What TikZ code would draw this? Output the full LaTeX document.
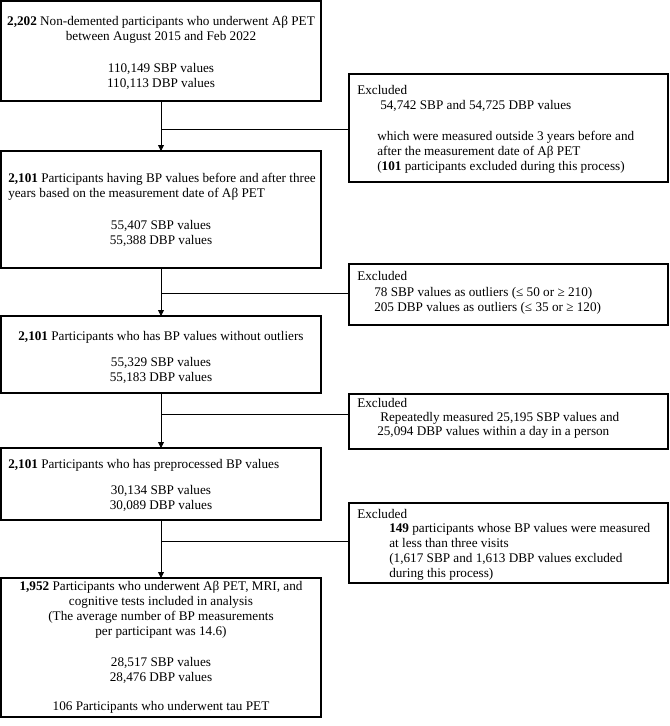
\documentclass[tikz,border=0pt]{standalone}
\usepackage{fontspec}
\setmainfont{Liberation Serif}
\usetikzlibrary{arrows.meta}
\begin{document}
\begin{tikzpicture}[x=0.75pt,y=-0.75pt,
  box/.style={draw=black,line width=1.1pt,inner sep=0pt,outer sep=0pt,fill=white},
  lbox/.style={box,minimum width=240pt},
  rbox/.style={box,minimum width=239.25pt},
  txt/.style={inner sep=0pt,font=\fontsize{9.9pt}{11.25pt}\selectfont},
  ctxt/.style={txt,align=center},
  ltxt/.style={txt,align=left,anchor=west},
  conn/.style={draw=black,line width=0.6pt},
  arr/.style={conn,-{Triangle[length=4.5pt,width=4.5pt]}}]
\useasboundingbox[fill=white] (0,0) rectangle (669,726);
% left boxes
\node[lbox,minimum height=75pt] (b1) at (161,51) {};
\node[lbox,minimum height=87.75pt] (b2) at (161,209.5) {};
\node[lbox,minimum height=57.75pt] (b3) at (161,354.5) {};
\node[lbox,minimum height=54pt] (b4) at (161,484) {};
\node[lbox,minimum height=104.25pt] (b5) at (161,647.5) {};
% right boxes
\node[rbox,minimum height=81pt] (r1) at (508.5,128) {};
\node[rbox,minimum height=45.75pt] (r2) at (508.5,294.5) {};
\node[rbox,minimum height=41.25pt] (r3) at (508.5,421.5) {};
\node[rbox,minimum height=60pt] (r4) at (508.5,543) {};
% connectors
\draw[arr] (b1.south) -- (b2.north);
\draw[arr] (b2.south) -- (b3.north);
\draw[arr] (b3.south) -- (b4.north);
\draw[arr] (b4.south) -- (b5.north);
\coordinate (j1) at (161,129);
\coordinate (j2) at (161,293);
\coordinate (j3) at (161,414);
\coordinate (j4) at (161,541);
\draw[conn] (j1) -- (j1 -| r1.west);
\draw[conn] (j2) -- (j2 -| r2.west);
\draw[conn] (j3) -- (j3 -| r3.west);
\draw[conn] (j4) -- (j4 -| r4.west);
% left texts
\node[ctxt] (t1a) at (161,30) {\textbf{2,202} Non-demented participants who underwent Aβ PET\\between August 2015 and Feb 2022};
\node[ctxt] (t1b) at (161,76) {110,149 SBP values\\110,113 DBP values};
\node[ltxt] (t2a) at (8,186.5) {\textbf{2,101} Participants having BP values before and after three\\years based on the measurement date of Aβ PET};
\node[ctxt] (t2b) at (161,233.5) {55,407 SBP values\\55,388 DBP values};
\node[ctxt] (t3a) at (161,337) {\textbf{2,101} Participants who has BP values without outliers};
\node[ctxt] (t3b) at (161,370.5) {55,329 SBP values\\55,183 DBP values};
\node[ltxt] (t4a) at (8,465) {\textbf{2,101} Participants who has preprocessed BP values};
\node[ctxt] (t4b) at (161,498.5) {30,134 SBP values\\30,089 DBP values};
\node[ctxt] (t5a) at (161,609.5) {\textbf{1,952} Participants who underwent Aβ PET, MRI, and\\cognitive tests included in analysis\\(The average number of BP measurements\\per participant was 14.6)};
\node[ctxt] (t5b) at (161,670.5) {28,517 SBP values\\28,476 DBP values};
\node[ctxt] (t5c) at (161,707) {106 Participants who underwent tau PET};
% right texts
\node[ltxt] (e1) at (357,90) {Excluded};
\node[ltxt] (e1a) at (380,106) {54,742 SBP and 54,725 DBP values};
\node[ltxt] (e1b) at (377,152) {which were measured outside 3 years before and\\after the measurement date of Aβ PET\\(\textbf{101} participants excluded during this process)};
\node[ltxt] (e2) at (357,276) {Excluded};
\node[ltxt] (e2a) at (374,300.5) {78 SBP values as outliers (≤ 50 or ≥ 210)\\205 DBP values as outliers (≤ 35 or ≥ 120)};
\node[ltxt] (e3) at (357,403) {Excluded};
\node[ltxt] (e3a) at (380,418) {Repeatedly measured 25,195 SBP values and};
\node[ltxt] (e3b) at (377,432) {25,094 DBP values within a day in a person};
\node[ltxt] (e4) at (357,514) {Excluded};
\node[ltxt] (e4a) at (389,551.5) {\textbf{149} participants whose BP values were measured\\at less than three visits\\(1,617 SBP and 1,613 DBP values excluded\\during this process)};
\end{tikzpicture}
\end{document}
